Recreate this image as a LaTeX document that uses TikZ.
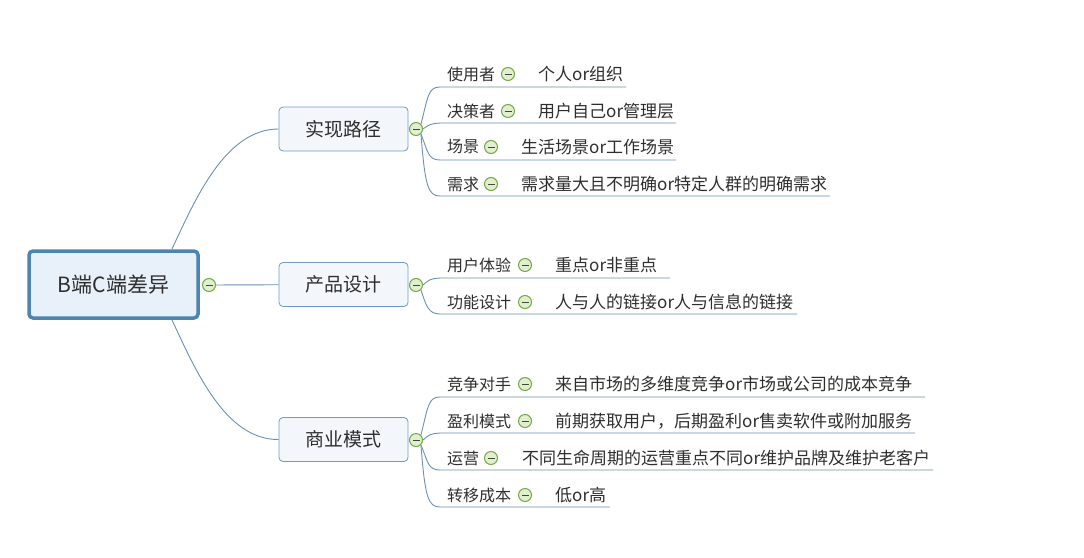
\documentclass[tikz,border=0pt]{standalone}
\usepackage{fontspec}
\setmainfont{Noto Sans CJK SC}
\definecolor{linkblue}{HTML}{6A91B4}
\definecolor{rootblue}{HTML}{4D84B0}
\definecolor{rootfill}{HTML}{E8F0F9}
\definecolor{mainline}{HTML}{6F9BC2}
\definecolor{mainfill}{HTML}{F3F7FC}
\definecolor{foldgreen}{HTML}{74AA44}
\definecolor{foldfill}{HTML}{E0EFD0}
\definecolor{minusgray}{HTML}{3E4D30}
\definecolor{textgray}{HTML}{2E2E2E}

\begin{document}
\begin{tikzpicture}[x=1pt,y=-1pt,
  link/.style={draw=linkblue, line width=0.9pt},
  rootbox/.style={draw=rootblue, line width=3.5pt, fill=rootfill, rounded corners=4pt,
    minimum width=169pt, minimum height=67pt, text=textgray, font=\fontsize{21}{24}\selectfont},
  mainbox/.style={draw=mainline, line width=0.8pt, fill=mainfill, rounded corners=4pt,
    minimum width=129pt, minimum height=44pt, text=textgray, font=\fontsize{19}{22}\selectfont},
  fold/.style={circle, draw=foldgreen, line width=1pt, fill=foldfill, minimum size=13pt, inner sep=0pt,
    path picture={\draw[line width=1pt, minusgray] ([xshift=-3.5pt]path picture bounding box.center)
      -- ([xshift=3.5pt]path picture bounding box.center);}},
  topic/.style={anchor=west, inner sep=0pt, text=textgray, font=\fontsize{16}{18}\selectfont},
  detail/.style={anchor=west, inner sep=0pt, text=textgray, font=\fontsize{17}{20}\selectfont}]

\useasboundingbox (0,0) rectangle (1084,557);

% root and main topics
\node[rootbox] (root) at (113.5,284.5) {B端C端差异};
\node[mainbox] (path) at (343.5,129) {实现路径};
\node[mainbox] (design) at (343.5,284.5) {产品设计};
\node[mainbox] (model) at (343.5,439.5) {商业模式};
\coordinate (rt) at (172,249);
\coordinate (rb) at (172,320);

\draw[link] (rt) .. controls (195,200) and (225,129) .. (path.west);
\draw[link] (rb) .. controls (195,369) and (225,440) .. (model.west);
\node[fold] (f0) at (209,285) {};
\draw[link] (f0) -- (design);

\node[fold] (f1) at (416,129) {};
\node[fold] (f2) at (416,285) {};
\node[fold] (f3) at (416,440) {};

% 实现路径
\node[topic] (t11) at (447,74) {使用者}; \node[fold] (c11) at (508,74) {}; \node[detail] (v11) at (538,74) {个人or组织};
\node[topic] (t12) at (447,111) {决策者}; \node[fold] (c12) at (508,111) {}; \node[detail] (v12) at (538,111) {用户自己or管理层};
\node[topic] (t13) at (447,147) {场景}; \node[fold] (c13) at (491,147) {}; \node[detail] (v13) at (521,147) {生活场景or工作场景};
\node[topic] (t14) at (447,184) {需求}; \node[fold] (c14) at (491,184) {}; \node[detail] (v14) at (521,184) {需求量大且不明确or特定人群的明确需求};
\coordinate (u11) at (440,87); \coordinate (e11) at (626,87);
\coordinate (u12) at (440,123); \coordinate (e12) at (676,123);
\coordinate (u13) at (440,160); \coordinate (e13) at (676,160);
\coordinate (u14) at (440,196); \coordinate (e14) at (830,196);
\draw[link] (f1.north east) .. controls (428,97) and (428,87) .. (u11) -- (e11);
\draw[link] (f1.east) .. controls (430,124) .. (u12) -- (e12);
\draw[link] (f1.south east) .. controls (428,152) and (428,160) .. (u13) -- (e13);
\draw[link] (f1.south east) .. controls (425,186) and (428,196) .. (u14) -- (e14);

% 产品设计
\node[topic] (t21) at (447,265) {用户体验}; \node[fold] (c21) at (525,265) {}; \node[detail] (v21) at (555,265) {重点or非重点};
\node[topic] (t22) at (447,302) {功能设计}; \node[fold] (c22) at (525,302) {}; \node[detail] (v22) at (555,302) {人与人的链接or人与信息的链接};
\coordinate (u21) at (440,278); \coordinate (e21) at (670,278);
\coordinate (u22) at (440,314); \coordinate (e22) at (797,314);
\draw[link] (f2.east) .. controls (430,279) .. (u21) -- (e21);
\draw[link] (f2.south east) .. controls (426,305) and (428,314) .. (u22) -- (e22);

% 商业模式
\node[topic] (t31) at (447,384) {竞争对手}; \node[fold] (c31) at (525,384) {}; \node[detail] (v31) at (555,384) {来自市场的多维度竞争or市场或公司的成本竞争};
\node[topic] (t32) at (447,421) {盈利模式}; \node[fold] (c32) at (525,421) {}; \node[detail] (v32) at (555,421) {前期获取用户，后期盈利or售卖软件或附加服务};
\node[topic] (t33) at (447,458) {运营}; \node[fold] (c33) at (491,458) {}; \node[detail] (v33) at (522,458) {不同生命周期的运营重点不同or维护品牌及维护老客户};
\node[topic] (t34) at (447,495) {转移成本}; \node[fold] (c34) at (525,495) {}; \node[detail] (v34) at (555,495) {低or高};
\coordinate (u31) at (440,397); \coordinate (e31) at (925,397);
\coordinate (u32) at (440,433); \coordinate (e32) at (915,433);
\coordinate (u33) at (440,470); \coordinate (e33) at (933,470);
\coordinate (u34) at (440,507); \coordinate (e34) at (610,507);
\draw[link] (f3.north east) .. controls (428,407) and (428,397) .. (u31) -- (e31);
\draw[link] (f3.east) .. controls (430,434) .. (u32) -- (e32);
\draw[link] (f3.south east) .. controls (428,462) and (428,470) .. (u33) -- (e33);
\draw[link] (f3.south east) .. controls (425,497) and (428,507) .. (u34) -- (e34);

\end{tikzpicture}
\end{document}
